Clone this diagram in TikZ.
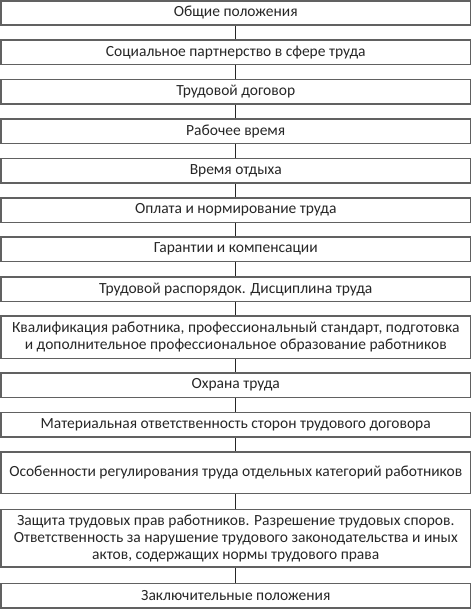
\documentclass[tikz,border=0pt]{standalone}
\usepackage{fontspec}
\setmainfont{Carlito}
\begin{document}
\begin{tikzpicture}[x=1pt,y=-1pt,
  box/.style={draw=black!62,line width=1.7pt,minimum width=469.5pt,inner sep=0pt,
    align=center,font=\fontsize{15.5}{16.8}\selectfont,text=black!85},
  link/.style={draw=black!85,line width=1pt}]
\useasboundingbox (0,0) rectangle (472,609);
\node[box,minimum height=24pt] (b1) at (235.75,13) {Общие положения};
\node[box,minimum height=24.5pt] (b2) at (235.75,52.2) {Социальное партнерство в сфере труда};
\node[box,minimum height=24.5pt] (b3) at (235.75,91.7) {Трудовой договор};
\node[box,minimum height=24.5pt] (b4) at (235.75,131.2) {Рабочее время};
\node[box,minimum height=24.5pt] (b5) at (235.75,170.7) {Время отдыха};
\node[box,minimum height=24.5pt] (b6) at (235.75,210.2) {Оплата и нормирование труда};
\node[box,minimum height=24.5pt] (b7) at (235.75,249.2) {Гарантии и компенсации};
\node[box,minimum height=24.5pt] (b8) at (235.75,289.2) {Трудовой распорядок. Дисциплина труда};
\node[box,minimum height=42.5pt] (b9) at (235.75,337.2) {Квалификация работника, профессиональный стандарт, подготовка\\и дополнительное профессиональное образование работников};
\node[box,minimum height=24.5pt] (b10) at (235.75,385.2) {Охрана труда};
\node[box,minimum height=24.5pt] (b11) at (235.75,424.7) {Материальная ответственность сторон трудового договора};
\node[box,minimum height=41.5pt] (b12) at (235.75,472.7) {Особенности регулирования труда отдельных категорий работников};
\node[box,minimum height=57.5pt] (b13) at (235.75,538.2) {Защита трудовых прав работников. Разрешение трудовых споров.\\Ответственность за нарушение трудового законодательства и иных\\актов, содержащих нормы трудового права};
\node[box,minimum height=24.5pt] (b14) at (235.75,595.7) {Заключительные положения};
\foreach \a/\b in {b1/b2,b2/b3,b3/b4,b4/b5,b5/b6,b6/b7,b7/b8,b8/b9,b9/b10,b10/b11,b11/b12,b12/b13,b13/b14}
  \draw[link] (\a.south) -- (\b.north);
\end{tikzpicture}
\end{document}
